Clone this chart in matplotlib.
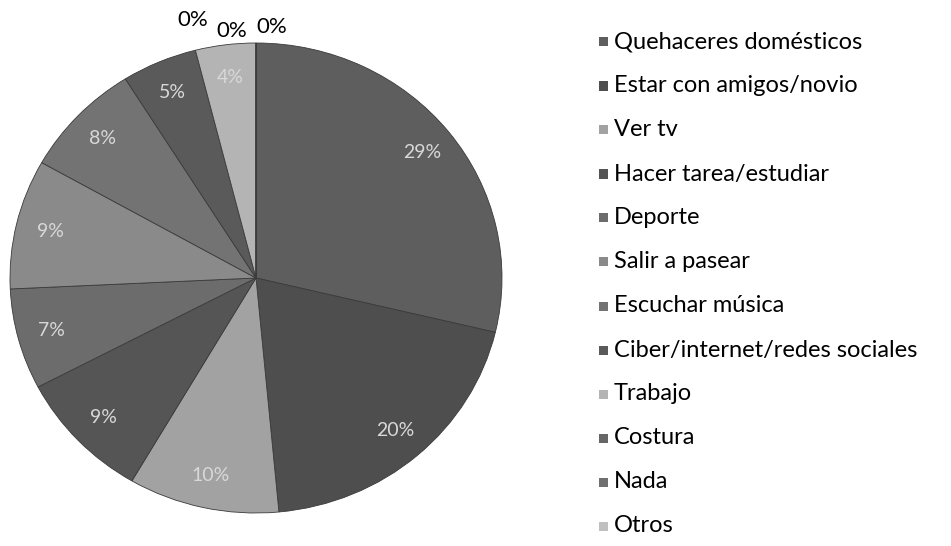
import matplotlib
matplotlib.use("Agg")
import matplotlib.pyplot as plt
from matplotlib.patches import Rectangle

plt.rcParams['font.family'] = ['Lato', 'DejaVu Sans']

# datos del gráfico
categorias = ["Quehaceres domésticos", "Estar con amigos/novio", "Ver tv",
              "Hacer tarea/estudiar", "Deporte", "Salir a pasear",
              "Escuchar música", "Ciber/internet/redes sociales", "Trabajo",
              "Costura", "Nada", "Otros"]
porcentajes = [29, 20, 10, 9, 7, 9, 8, 5, 4, 0, 0, 0]
grises = ["#5e5e5e", "#4e4e4e", "#a2a2a2", "#555555", "#6c6c6c", "#8a8a8a",
          "#737373", "#5a5a5a", "#b4b4b4", "#666666", "#707070", "#c0c0c0"]

fig = plt.figure(figsize=(9.51, 5.46), dpi=100)
ax = fig.add_axes([10 / 951, 33 / 546, 492 / 951, 470 / 546])

etiquetas = [f"{p}%" for p in porcentajes]
wedges, textos = ax.pie(porcentajes, colors=grises, startangle=90, counterclock=False,
                        labels=etiquetas, labeldistance=0.86,
                        wedgeprops=dict(edgecolor="#3a3a3a", linewidth=0.6))
ax.set_aspect('auto')
ax.set_xlim(-1, 1)
ax.set_ylim(-1, 1)

for t, p in zip(textos, porcentajes):
    t.set_fontsize(14)
    t.set_color("#d8d8d8")
    t.set_ha("center")
    t.set_va("center")

# las etiquetas de 0% van fuera del círculo, separadas
pos_cero = [(-0.256, 1.10), (-0.098, 1.05), (0.065, 1.07)]
ceros = [t for t, p in zip(textos, porcentajes) if p == 0]
for t, (x, y) in zip(ceros, pos_cero):
    t.set_position((x, y))
    t.set_color("black")
    t.set_fontsize(16)

# leyenda a la derecha
y0 = 1 - 42 / 546
paso = 44 / 546
for i, (cat, col) in enumerate(zip(categorias, grises)):
    y = y0 - i * paso
    fig.patches.append(Rectangle((599 / 951, y - 4.5 / 546), 9 / 951, 9 / 546,
                                 transform=fig.transFigure, facecolor=col,
                                 edgecolor="none"))
    fig.text(614 / 951, y, cat, fontsize=17, va="center", ha="left", color="black")

fig.savefig("out.png", dpi=100)
